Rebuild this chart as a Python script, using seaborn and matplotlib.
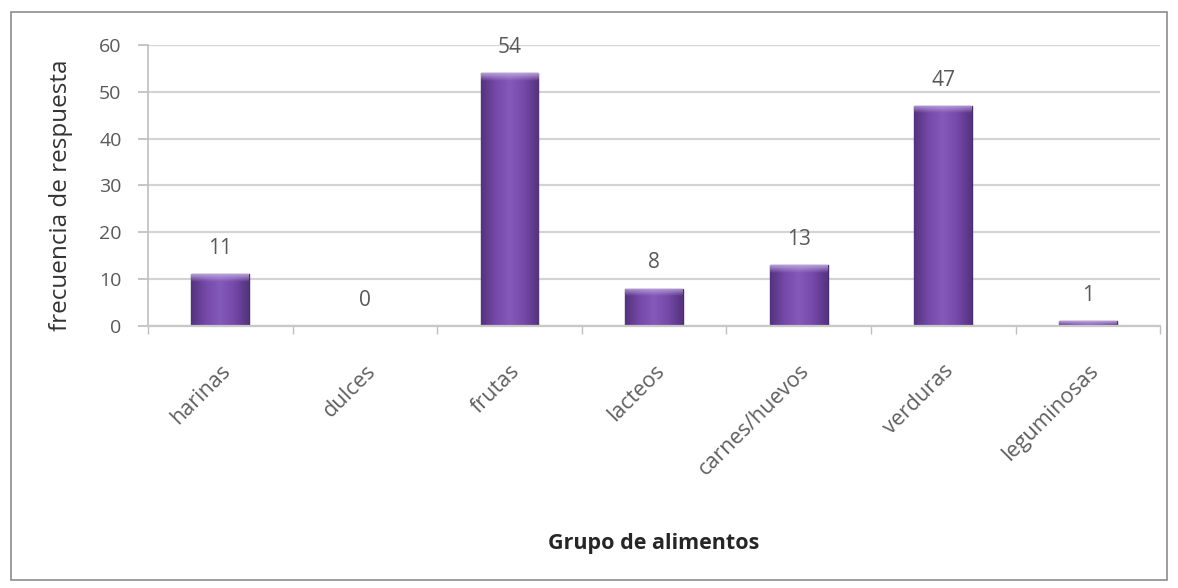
import matplotlib
matplotlib.use("Agg")
import matplotlib.pyplot as plt
import seaborn as sns
import pandas as pd
import numpy as np
from matplotlib.patches import Rectangle
from matplotlib.colors import LinearSegmentedColormap

categories = ["harinas", "dulces", "frutas", "lacteos", "carnes/huevos", "verduras", "leguminosas"]
values = [11, 0, 54, 8, 13, 47, 1]
yticks = [0, 10, 20, 30, 40, 50, 60]
xlabel = "Grupo de alimentos"
ylabel = "frecuencia de respuesta"

sns.set_theme(style="white")
plt.rcParams['font.family'] = ['Open Sans', 'DejaVu Sans']

df = pd.DataFrame({"grupo": categories, "frecuencia": values})

fig = plt.figure(figsize=(11.78, 5.88), dpi=100)
fig.patch.set_facecolor("white")
fig.add_artist(Rectangle((0.009, 0.014), 0.982, 0.966, transform=fig.transFigure,
                         fill=False, edgecolor="#8c8c8c", linewidth=1.2))
ax = fig.add_axes([0.1256, 0.4456, 0.8594, 0.478])

sns.barplot(data=df, x="grupo", y="frecuencia", ax=ax, color="#7a50ab",
            width=0.40, edgecolor="#4a2c70", linewidth=1.0, saturation=1)

# horizontal shading inside each bar (darker edges, lighter center)
cmap = LinearSegmentedColormap.from_list(
    "barshade", ["#55337f", "#7549a9", "#8359b9", "#7549a9", "#55337f"])
grad = np.linspace(0, 1, 64).reshape(1, -1)
# soft light highlight at the top of each bar
top_rgba = np.zeros((32, 1, 4))
top_rgba[..., :3] = np.array([0.78, 0.68, 0.90])
top_rgba[:, 0, 3] = np.linspace(0.85, 0.0, 32)
for p in ax.patches:
    x0, y0 = p.get_x(), p.get_y()
    w, h = p.get_width(), p.get_height()
    if h <= 0:
        continue
    im = ax.imshow(grad, cmap=cmap, aspect="auto", extent=(x0, x0 + w, y0, y0 + h),
                   zorder=p.get_zorder() + 0.1, interpolation="bicubic")
    im.set_clip_path(p)
    top_h = min(h, 1.6)
    im2 = ax.imshow(top_rgba, aspect="auto", extent=(x0, x0 + w, y0 + h - top_h, y0 + h),
                    zorder=p.get_zorder() + 0.2, interpolation="bilinear", origin="upper")
    im2.set_clip_path(p)

ax.set_ylim(0, 60)
ax.set_xlim(-0.5, len(categories) - 0.5)
ax.set_yticks(yticks)
ax.set_yticklabels([str(t) for t in yticks], color="#595959", fontsize=14)
ax.yaxis.grid(True, color="#d4d4d4", linewidth=1.6)
ax.set_axisbelow(True)

ax.set_xticks(range(len(categories)))
ax.set_xticklabels(categories, rotation=45, ha="right", rotation_mode="anchor",
                   color="#5f5f5f", fontsize=15.5)
ax.set_xticks([i - 0.5 for i in range(len(categories) + 1)], minor=True)
ax.tick_params(axis="x", which="major", length=0, pad=25)
ax.tick_params(axis="x", which="minor", length=6, color="#bfbfbf", direction="out", bottom=True)
ax.tick_params(axis="y", length=7, color="#bfbfbf", direction="out", left=True, pad=12)

for s in ["top", "right"]:
    ax.spines[s].set_visible(False)
ax.spines["left"].set_color("#bfbfbf")
ax.spines["bottom"].set_color("#c8c8c8")
ax.spines["left"].set_linewidth(1.2)
ax.spines["bottom"].set_linewidth(1.6)

for i, v in enumerate(values):
    ax.annotate(str(v), xy=(i, v), xytext=(0, 11), textcoords="offset points",
                ha="center", va="bottom", color="#595959", fontsize=15)

ax.set_xlabel(xlabel, fontsize=15.5, fontweight="bold", color="#262626")
ax.xaxis.set_label_coords(0.5, -0.735)
ax.set_ylabel(ylabel, fontsize=17.5, color="#333333")
ax.yaxis.set_label_coords(-0.074, 0.466)

fig.savefig("out.png", dpi=100, facecolor="white")
